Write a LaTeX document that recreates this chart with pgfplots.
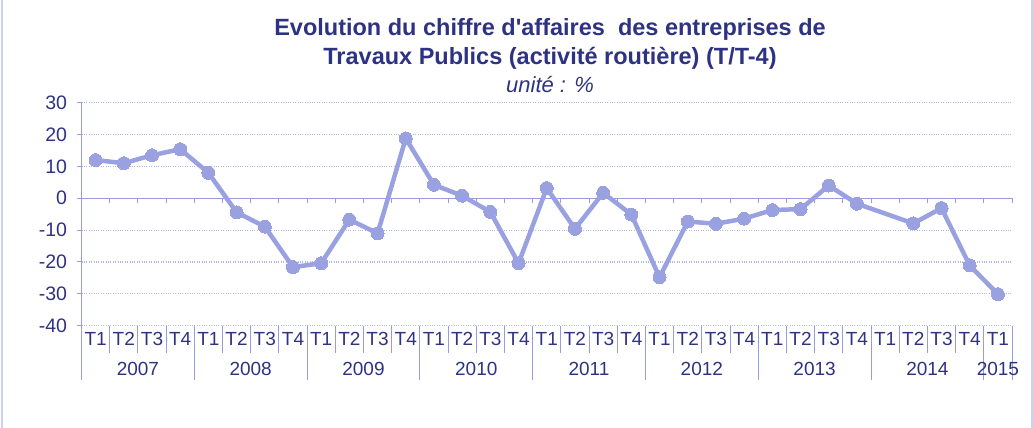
\documentclass[border=0pt]{standalone}
\usepackage{pgfplots}
\pgfplotsset{compat=1.18}
\usepackage{fontspec}
\setmainfont{Liberation Sans}
\definecolor{txt}{RGB}{46,50,130}
\definecolor{serie}{RGB}{153,161,224}
\definecolor{axc}{RGB}{150,156,222}
\definecolor{gridc}{RGB}{178,184,236}
\definecolor{framec}{RGB}{205,208,242}

\pgfplotstableread{
x y
0 12.0
1 11.0
2 13.5
3 15.4
4 8.0
5 -4.4
6 -8.9
7 -21.6
8 -20.4
9 -6.7
10 -11.0
11 18.8
12 4.2
13 0.8
14 -4.3
15 -20.4
16 3.2
17 -9.6
18 1.7
19 -5.1
20 -24.8
21 -7.3
22 -8.0
23 -6.4
24 -3.7
25 -3.4
26 4.0
27 -1.7
29 -7.9
30 -3.1
31 -21.1
32 -30.1
}\datatable

\begin{document}
\begin{tikzpicture}[x=1pt,y=1pt]
\useasboundingbox (0,0) rectangle (1033,428);
\fill[framec] (1,0) rectangle (3,428);
\fill[framec] (1031.2,0) rectangle (1032.8,428);
\node[font=\fontsize{23.5}{27}\selectfont\bfseries, text=txt] at (550,399) {Evolution du chiffre d\textquotesingle affaires\ \ des entreprises de};
\node[font=\fontsize{23.5}{27}\selectfont\bfseries, text=txt] at (550,370) {Travaux Publics (activité routière) (T/T-4)};
\node[font=\fontsize{22}{26}\selectfont\itshape, text=txt] at (550,343) {unité : \%};

\begin{axis}[
  at={(81.5pt,102.3pt)}, anchor=south west,
  scale only axis, width=930.5pt, height=223pt,
  xmin=-0.5, xmax=32.5, ymin=-40, ymax=30,
  axis y line*=left, axis x line*=bottom,
  x axis line style={draw=none},
  y axis line style={draw=axc, line width=1.2pt},
  ytick={-40,-30,...,30},
  yticklabels={-40,-30,-20,-10,0,10,20,30},
  tick align=outside, major tick length=5pt,
  major y tick style={draw=axc, line width=1pt},
  major x tick style={draw=none},
  xtick={0,...,32},
  xticklabels={T1,T2,T3,T4,T1,T2,T3,T4,T1,T2,T3,T4,T1,T2,T3,T4,T1,T2,T3,T4,T1,T2,T3,T4,T1,T2,T3,T4,T1,T2,T3,T4,T1},
  xticklabel style={anchor=base, yshift=-14.5pt, font=\fontsize{19}{22}\selectfont, text=txt},
  yticklabel style={font=\fontsize{19.5}{22}\selectfont, text=txt, xshift=-6pt},
  ymajorgrids, major grid style={dotted, gridc, line width=1.2pt},
  clip=false,
]
\draw[axc, line width=1.2pt] (axis cs:-0.5,0) -- (axis cs:32.5,0);
\pgfplotsinvokeforeach{0.5,1.5,...,32.5}{
  \draw[axc, line width=1pt] (axis cs:#1,0) -- ++(0pt,-5pt);
}
\pgfplotsinvokeforeach{0.5,1.5,2.5,4.5,5.5,6.5,8.5,9.5,10.5,12.5,13.5,14.5,16.5,17.5,18.5,20.5,21.5,22.5,24.5,25.5,26.5,28.5,29.5,30.5}{
  \draw[axc, line width=1pt] (axis cs:#1,-40) -- ++(0pt,-27pt);
}
\pgfplotsinvokeforeach{-0.5,3.5,7.5,11.5,15.5,19.5,23.5,27.5,31.5,32.5}{
  \draw[axc, line width=1pt] (axis cs:#1,-40) -- ++(0pt,-54pt);
}
\foreach \p/\yr in {1.5/2007,5.5/2008,9.5/2009,13.5/2010,17.5/2011,21.5/2012,25.5/2013,29.5/2014,32/2015}{
  \edef\tmp{\noexpand\node[anchor=base, font=\noexpand\fontsize{19}{22}\noexpand\selectfont, text=txt] at (axis cs:\p,-40) [yshift=-50pt] {\yr};}
  \tmp
}
\addplot[serie, line width=4.5pt, mark=*, mark size=6.5pt, mark options={fill=serie, draw=serie, line width=0pt}] table[x=x,y=y] {\datatable};
\end{axis}
\end{tikzpicture}
\end{document}
